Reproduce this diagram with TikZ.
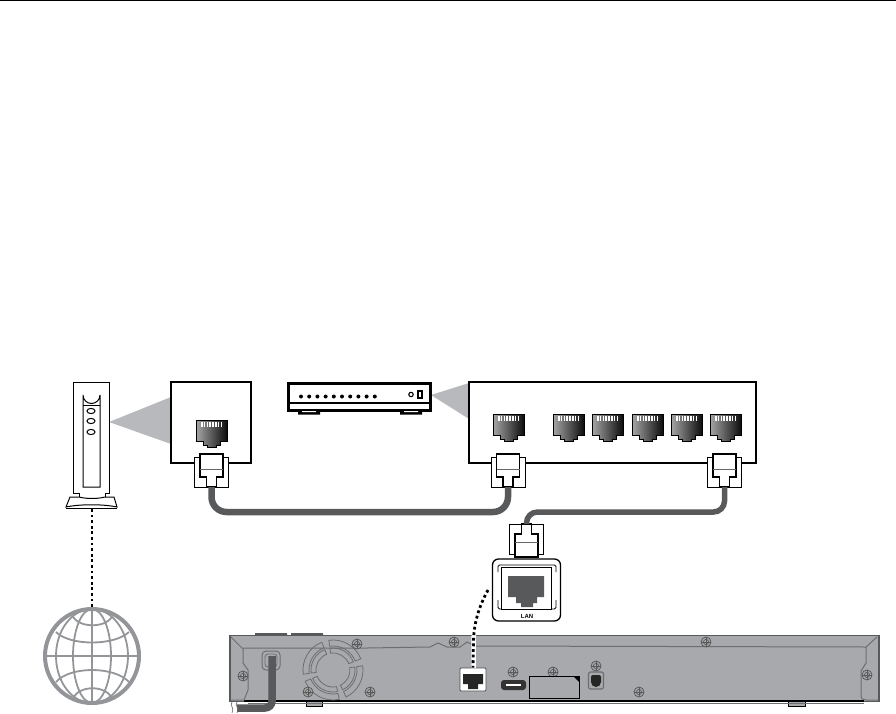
\documentclass[tikz,border=0pt]{standalone}
\usepackage{fontspec}
\setmainfont{Liberation Sans}
\definecolor{cablegray}{HTML}{58595B}
\definecolor{wedgegray}{HTML}{B7B9BC}
\definecolor{bodygray}{HTML}{A7A9AC}
\definecolor{globegray}{HTML}{939598}
\definecolor{linegray}{HTML}{6D6E71}
\tikzset{
    panelbox/.style={rectangle, draw=black, line width=1.5pt, fill=white, inner sep=0pt, minimum width=#1, minimum height=81pt},
    cable/.style={draw=cablegray, line width=6.5pt},
    dotlink/.style={line width=2.8pt, dash pattern=on 2.8pt off 2.8pt},
    wedge/.style={fill=wedgegray, draw=none},
    screw/.pic={
        \draw[black!65, line width=.8pt, fill=bodygray] (0,0) circle[radius=5];
        \draw[black!65, line width=.7pt] (0,0) circle[radius=2.6];
        \draw[black!65, line width=.7pt] (-5,0) -- (5,0) (0,-5) -- (0,5);
    },
    rjjack/.pic={
        \shade[left color=gray!70, right color=black!95, draw=black, line width=.4pt]
            (0,0) -- (31,0) -- (31,21) -- (24,21) -- (24,25) -- (20,25) -- (20,27)
            -- (11,27) -- (11,25) -- (7,25) -- (7,21) -- (0,21) -- cycle;
        \foreach \k in {0,...,7} \fill[white] (5+\k*2.8,1.5) rectangle ++(1.5,5);
    },
    rjplug/.pic={
        \draw[black, fill=white, line width=1pt] (-17,3) rectangle (17,33);
        \draw[black, fill=white, line width=1.1pt]
            (-11.5,0) -- (-11.5,23) -- (-5,23) -- (-5,33) -- (5,33) -- (5,23)
            -- (11.5,23) -- (11.5,0) -- cycle;
        \draw[black!60, line width=.7pt] (-11.5,15) -- (11.5,15);
        \coordinate (-tail) at (0,33);
    },
}

\begin{document}
\begin{tikzpicture}[x=1pt, y=-1pt]
    \useasboundingbox (0,0) rectangle (896,714);
    \draw[black, line width=1pt] (0,.5) -- (896,.5);

    % modem
    \fill[wedge] (109,422) -- (171,397) -- (171,444) -- cycle;
    \node[rectangle, draw=black, line width=1pt, fill=white, minimum width=36pt, minimum height=111pt, inner sep=0pt] (modem) at (91,437.5) {};
    \draw[black, line width=1pt] (83,487) -- (83,395) arc[start angle=180, end angle=0, radius=8.5] -- (100,487) -- cycle;
    \draw[black, line width=.9pt] (83,405) -- (100,405);
    \foreach \y in {411,421,432} \draw[black, line width=1pt] (91,\y) ellipse[x radius=4, y radius=2.6];
    \draw[black, fill=white, line width=.9pt] (79,493) -- (79,498) -- (105,498) -- (105,493);
    \draw[black, fill=white, line width=1pt] (70,497) -- (66,507) .. controls (80,504) and (103,504) .. (117,507) -- (114,497) -- (105,497) .. controls (97,499) and (87,499) .. (79,497) -- cycle;
    \draw[black, line width=.8pt] (66,508) -- (117,508);
    \coordinate (modembase) at (92,509);

    % globe
    \node[circle, draw=globegray, line width=4pt, minimum size=94pt, inner sep=0pt] (globe) at (92,656) {};
    \begin{scope}[globegray, line width=1.8pt]
        \draw (92,656) ellipse[x radius=36, y radius=47];
        \draw (92,656) ellipse[x radius=19, y radius=47];
        \draw (92,609) -- (92,703);
        \draw (45,656) -- (139,656);
        \draw (56,632) .. controls (70,646) and (114,646) .. (129,632);
        \draw (73,617) .. controls (80,628) and (105,628) .. (112,617);
        \draw (56,682) .. controls (70,666) and (114,666) .. (129,682);
        \draw (73,698) .. controls (80,685) and (105,685) .. (112,698);
    \end{scope}
    \draw[dotlink] (modembase) -- (globe.north);

    % wall box
    \node[panelbox=80pt] (wallbox) at (211,422.5) {};
    \pic (jackA) at (196,420) {rjjack};
    \pic (plugA) at (211.5,454) {rjplug};

    % router
    \fill[wedge] (431,395) -- (469,383) -- (469,419) -- cycle;
    \node[rectangle, draw=black, line width=3pt, fill=white, minimum width=142pt, minimum height=27pt, inner sep=0pt] (router) at (359,396.5) {};
    \draw[black, line width=2.4pt] (288,403) -- (430,403);
    \fill[black] (298,410) rectangle (320,414.5) (400,410) rectangle (422,414.5);
    \fill[white] (302,411) rectangle (316,412) (404,411) rectangle (418,412);
    \foreach \k in {0,...,9} \fill[black] (301+\k*8.2,396.5) circle[radius=2];
    \draw[black, line width=1.1pt] (411,394.5) circle[radius=2.2];
    \draw[black, line width=1.1pt] (418,391) rectangle (422,398);

    % switch box
    \node[panelbox=287pt] (switchbox) at (612.5,422.5) {};
    \foreach \x/\n in {493/B,553/C,592/D,632/E,671/F,710/G} \pic (jack\n) at (\x,414) {rjjack};
    \pic (plugB) at (508,454) {rjplug};
    \pic (plugC) at (724.5,454) {rjplug};
    \pic[yscale=-1] (plugD) at (526.5,557) {rjplug};

    % cables
    \draw[cable, rounded corners=15pt] (plugA-tail) -- ++(0,25) -| (plugB-tail);
    \draw[cable, line width=5.5pt, rounded corners=11pt] (plugC-tail) -- ++(0,25) -| (plugD-tail);

    % LAN badge
    \node[rectangle, rounded corners=6pt, draw=black, line width=1.3pt, fill=white, minimum width=68pt, minimum height=62pt, inner sep=0pt] (lanbadge) at (526.5,590) {};
    \draw[black, line width=.9pt, rounded corners=1.5pt] (498,572) -- (498,565) -- (556,565) -- (556,572);
    \draw[black, line width=.9pt, rounded corners=1.5pt] (498,600) -- (498,609) -- (556,609) -- (556,600);
    \draw[black, line width=1pt, fill=white] (501,567) rectangle (551,609);
    \fill[cablegray] (508,576) -- (544,576) -- (544,597) -- (537,597) -- (537,603) -- (533,603)
        -- (533,607) -- (521,607) -- (521,603) -- (516,603) -- (516,597) -- (508,597) -- cycle;
    \node[font=\bfseries\fontsize{6}{6}\selectfont, inner sep=0pt] (lanlabel) at (527,616) {LAN};

    % player
    \fill[cablegray] (255,633) rectangle (287,636) (291,633) rectangle (323,636);
    \draw[black, line width=1pt, fill=bodygray] (306,701) rectangle (322,706) (788,701) rectangle (805,706);
    \node[rectangle, draw=cablegray, line width=1.3pt, fill=bodygray, minimum width=649pt, minimum height=66pt, inner sep=0pt] (player) at (554.5,668.5) {};
    \draw[black, line width=1.4pt] (244,701) -- (864,701);
    \draw[linegray, line width=.8pt] (248,703.5) -- (864,703.5);
    \draw[linegray, line width=1pt] (231,637) -- (243,649) -- (243,663) -- (248,670) -- (248,690) -- (244,700) -- (231,700);
    \draw[linegray, line width=1pt] (243,648) -- (367,648) -- (430,647) -- (438,643) -- (447,647) -- (460,647) -- (467,642) -- (475,646) -- (866,647) -- (877,637);
    \draw[linegray, line width=1pt] (866,647) -- (866,663) -- (861,671) -- (861,695) .. controls (861,699) and (863,700) .. (866,700) -- (878,700);

    % fan
    \begin{scope}[shift={(333,670)}, linegray, line width=.8pt]
        \foreach \a/\b in {78/158,172/248,262/338,352/424} {
            \draw (\a:30) arc[start angle=\a, end angle=\b, radius=30] -- (\b:24) arc[start angle=\b, end angle=\a, radius=24] -- cycle;
            \draw (\a:22) arc[start angle=\a, end angle=\b, radius=22] -- (\b:17) arc[start angle=\b, end angle=\a, radius=17] -- cycle;
        }
    \end{scope}

    \foreach \x/\y in {243/676,357/644,308/692,370/692,454/642,513/672,553/672,596/666,706/642,639/692,867/675}
        \pic at (\x,\y) {screw};

    % ports
    \node[rectangle, rounded corners=4pt, draw=linegray, line width=1pt, minimum width=18pt, minimum height=19pt, inner sep=0pt] (powerport) at (271,660.5) {};
    \draw[linegray, line width=.8pt, rounded corners=3pt] (265,654) rectangle (277,667);
    \coordinate (powerin) at (272,656);
    \coordinate (powerend) at (237,708);
    \draw[cable, line width=7.5pt, rounded corners=7pt] (powerin) |- (powerend);
    \draw[linegray, line width=.7pt] (232,702) .. controls (229,705) and (235,708) .. (232,713);
    \draw[linegray, line width=.7pt] (237,702) .. controls (234,705) and (240,708) .. (237,713);

    \node[rectangle, rounded corners=1pt, draw=black!70, line width=.8pt, fill=white, minimum width=26pt, minimum height=23pt, inner sep=0pt] (lanport) at (473,679.5) {};
    \fill[black!85] (463,674) -- (483,674) -- (483,684) -- (478,684) -- (478,689) -- (468,689) -- (468,684) -- (463,684) -- cycle;
    \node[rectangle, rounded corners=3pt, fill=black!80, minimum width=25pt, minimum height=10pt, inner sep=0pt] (hdmiport) at (513.5,685) {};
    \fill[white] (506,684) rectangle (521,686);
    \node[rectangle, draw=black, line width=1pt, fill=bodygray, minimum width=50pt, minimum height=22pt, inner sep=0pt] (cardslot) at (554,687) {};
    \fill[black] (573,676) -- (579,676) -- (579,682) -- cycle;
    \node[rectangle, rounded corners=2pt, draw=linegray, line width=1.2pt, minimum width=15pt, minimum height=17pt, inner sep=0pt] (optport) at (596,680.5) {};
    \fill[black!85, rounded corners=2pt] (591,675) -- (601,675) -- (601,684) -- (598,687) -- (594,687) -- (591,684) -- cycle;

    % dotted link
    \coordinate (badgeend) at (488,590);
    \draw[white, line width=4.5pt] (badgeend) .. controls (478,608) and (474,625) .. (473.5,640) -- (473.5,668);
    \draw[dotlink] (badgeend) .. controls (478,608) and (474,625) .. (473.5,640) -- (lanport.north);
\end{tikzpicture}
\end{document}
